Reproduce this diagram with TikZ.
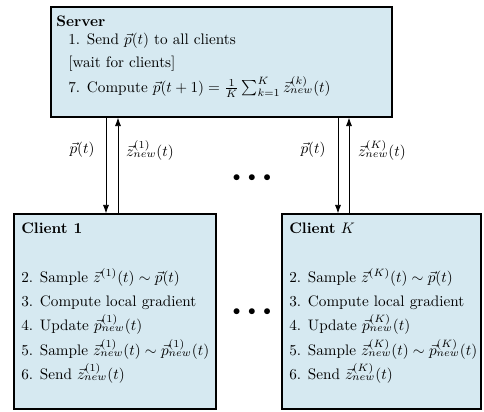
\documentclass[tikz,border=0pt]{standalone}
\usetikzlibrary{arrows.meta,fit}
\definecolor{boxblue}{RGB}{214,233,241}
\begin{document}
\begin{tikzpicture}[x=0.657pt,y=-0.657pt,
  box/.style={draw=black,line width=0.9pt,fill=boxblue,inner sep=0pt},
  txt/.style={anchor=base west,inner sep=0pt},
  lbl/.style={inner sep=0pt},
  arr/.style={-{Latex[length=5.5pt,width=4pt]},line width=0.5pt}]
\useasboundingbox (0,0) rectangle (484,411);

% boxes
\node[box,fit={(51,7) (392,117)}] (server) {};
\node[box,fit={(14,214) (216,409)}] (c1) {};
\node[box,fit={(282,214) (481,409)}] (cK) {};

% server text
\node[txt] (st) at (56,26) {\textbf{Server}};
\node[txt] (s1) at (68,44) {1. Send $\vec{p}(t)$ to all clients};
\node[txt] (sw) at (68,67) {[wait for clients]};
\node[txt] (s7) at (68,92) {7. Compute $\vec{p}(t+1)=\frac{1}{K}\sum_{k=1}^{K}\vec{z}^{(k)}_{new}(t)$};

% client 1 text
\node[txt] (c1t) at (21,233) {\textbf{Client 1}};
\node[txt] (c1a) at (21,282) {2. Sample $\vec{z}^{(1)}(t)\sim\vec{p}(t)$};
\node[txt] (c1b) at (21,306) {3. Compute local gradient};
\node[txt] (c1c) at (21,330) {4. Update $\vec{p}^{(1)}_{new}(t)$};
\node[txt] (c1d) at (21,355) {5. Sample $\vec{z}^{(1)}_{new}(t)\sim\vec{p}^{(1)}_{new}(t)$};
\node[txt] (c1e) at (21,379) {6. Send $\vec{z}^{(1)}_{new}(t)$};

% client K text
\node[txt] (cKt) at (289,233) {\textbf{Client} $K$};
\node[txt] (cKa) at (289,282) {2. Sample $\vec{z}^{(K)}(t)\sim\vec{p}(t)$};
\node[txt] (cKb) at (289,306) {3. Compute local gradient};
\node[txt] (cKc) at (289,330) {4. Update $\vec{p}^{(K)}_{new}(t)$};
\node[txt] (cKd) at (289,355) {5. Sample $\vec{z}^{(K)}_{new}(t)\sim\vec{p}^{(K)}_{new}(t)$};
\node[txt] (cKe) at (289,379) {6. Send $\vec{z}^{(K)}_{new}(t)$};

% connector columns
\coordinate (d1) at (106,0);
\coordinate (u1) at (118,0);
\coordinate (dK) at (338,0);
\coordinate (uK) at (349,0);

\draw[arr] (server.south -| d1) -- (c1.north -| d1);
\draw[arr] (c1.north -| u1) -- (server.south -| u1);
\draw[arr] (server.south -| dK) -- (cK.north -| dK);
\draw[arr] (cK.north -| uK) -- (server.south -| uK);

\node[lbl] (l1) at (82,150) {$\vec{p}(t)$};
\node[lbl] (l2) at (150,150) {$\vec{z}^{(1)}_{new}(t)$};
\node[lbl] (l3) at (313,150) {$\vec{p}(t)$};
\node[lbl] (l4) at (382,150) {$\vec{z}^{(K)}_{new}(t)$};

% ellipses between clients
\node[lbl] (dots1) at (252,178) {$\bullet\;\bullet\;\bullet$};
\node[lbl] (dots2) at (252,312) {$\bullet\;\bullet\;\bullet$};
\end{tikzpicture}
\end{document}
